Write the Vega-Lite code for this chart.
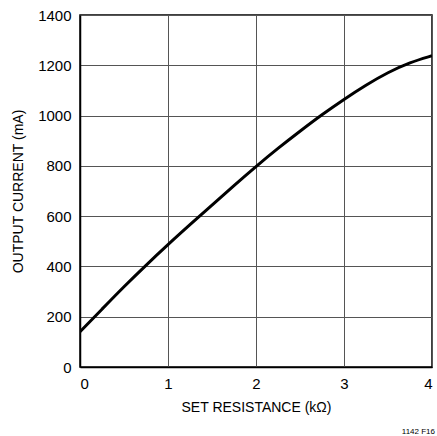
{
  "$schema": "https://vega.github.io/schema/vega-lite/v6.json",
  "width": 352,
  "height": 352,
  "autosize": {"type": "none"},
  "padding": {"left": 80, "top": 15, "right": 5, "bottom": 69},
  "background": "white",
  "config": {
    "view": {"stroke": "#000", "strokeWidth": 1.5},
    "font": "Liberation Sans",
    "axis": {
      "labelFont": "Liberation Sans",
      "titleFont": "Liberation Sans",
      "labelFontSize": 15,
      "titleFontSize": 14,
      "titleFontWeight": "normal",
      "labelColor": "#000",
      "titleColor": "#000",
      "gridColor": "#555",
      "gridOpacity": 1,
      "gridWidth": 1,
      "domainColor": "#000",
      "domainWidth": 1.5,
      "ticks": false
    }
  },
  "title": {"text": "1142 F16", "orient": "bottom", "anchor": "end", "fontSize": 8, "fontWeight": "normal", "font": "Liberation Sans", "color": "#000", "offset": 14, "dx": 3},
  "data": {"values": [
    {"r": 0, "i": 140},
    {"r": 0.25, "i": 230},
    {"r": 0.5, "i": 320},
    {"r": 0.75, "i": 405},
    {"r": 1, "i": 487},
    {"r": 1.25, "i": 566},
    {"r": 1.5, "i": 644},
    {"r": 1.75, "i": 722},
    {"r": 2, "i": 798},
    {"r": 2.25, "i": 870},
    {"r": 2.5, "i": 938},
    {"r": 2.75, "i": 1004},
    {"r": 3, "i": 1065},
    {"r": 3.25, "i": 1122},
    {"r": 3.5, "i": 1172},
    {"r": 3.75, "i": 1212},
    {"r": 4, "i": 1238}
  ]},
  "mark": {"type": "line", "color": "#000", "strokeWidth": 3, "interpolate": "basis", "clip": true},
  "encoding": {
    "x": {"field": "r", "type": "quantitative", "scale": {"domain": [0, 4], "nice": false},
      "axis": {"values": [0, 1, 2, 3, 4], "title": "SET RESISTANCE (kΩ)", "labelPadding": 9, "titlePadding": 9}},
    "y": {"field": "i", "type": "quantitative", "scale": {"domain": [0, 1400], "nice": false},
      "axis": {"values": [0, 200, 400, 600, 800, 1000, 1200, 1400], "format": "d", "title": "OUTPUT CURRENT (mA)", "labelPadding": 9, "titlePadding": 12}}
  }
}
